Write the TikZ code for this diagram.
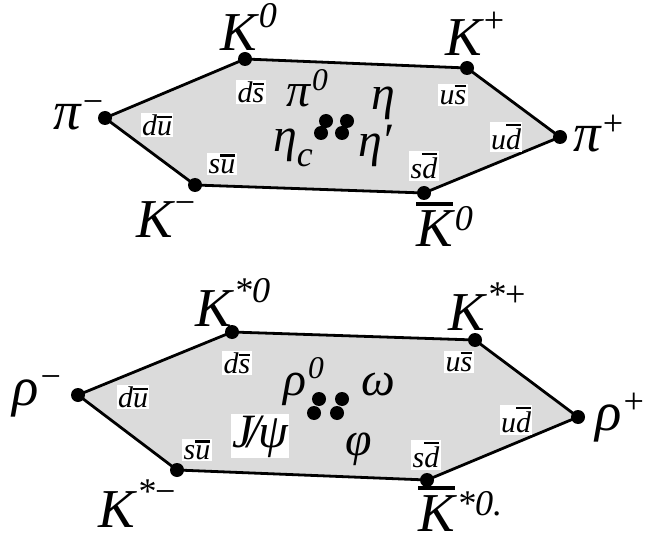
\documentclass[tikz,border=0pt]{standalone}
\usepackage{fontspec}
\setmainfont{Liberation Serif}
\newcommand{\ovl}[1]{\vbox{\hrule height 0.07em\kern0.1em\hbox{#1}}}
\newcommand{\sps}[2][0.42em]{\kern0.04em\raisebox{#1}{\fontsize{0.66\dimexpr\fontdimen6\font\relax}{0pt}\selectfont #2}}
\newcommand{\sbs}[1]{\raisebox{-0.3em}{\fontsize{0.75\dimexpr\fontdimen6\font\relax}{0pt}\selectfont #1}}
\begin{document}
\begin{tikzpicture}[x=1bp,y=-1bp,
  hexa/.style={fill=gray!28, draw=black, line width=2.8bp, line join=round},
  vdot/.style={circle, fill=black, inner sep=0pt, minimum size=14bp},
  cdot/.style={circle, fill=black, inner sep=0pt, minimum size=14bp},
  big/.style={font=\fontsize{55}{55}\selectfont\itshape, inner sep=0pt, anchor=base west},
  mid/.style={font=\fontsize{48}{48}\selectfont\itshape, inner sep=0pt, anchor=base west},
  qk/.style={font=\fontsize{30}{30}\selectfont\itshape, fill=white, inner sep=1.5bp}]
\useasboundingbox (0,0) rectangle (646,543);
% ---------- top hexagon ----------
\coordinate (pim) at (105,118);
\coordinate (K0) at (245,59);
\coordinate (Kp) at (467,68);
\coordinate (pip) at (560,137);
\coordinate (K0b) at (424,193);
\coordinate (Km) at (195,185);
\draw[hexa] (pim) -- (K0) -- (Kp) -- (pip) -- (K0b) -- (Km) -- cycle;
\foreach \v in {pim,K0,Kp,pip,K0b,Km} \node[vdot] (d\v) at (\v) {};
\node[big] (lK0) at (220,51) {K\sps{0}};
\node[big] (lKp) at (445,56) {K\sps{\upshape +}};
\node[big] (lpim) at (53,130) {π\sps[0.3em]{\upshape −}};
\node[big] (lpip) at (573,152) {π\sps[0.3em]{\upshape +}};
\node[big] (lKm) at (136,238) {K\sps{\upshape −}};
\node[big] (lK0b) at (416,247) {\ovl{K}\sps[0.3em]{0}};
\node[qk] (q1) at (251,92) {d\ovl{s}};
\node[qk] (q2) at (453,95) {u\ovl{s}};
\node[qk] (q3) at (157,125) {d\ovl{u}};
\node[qk] (q4) at (506,137) {u\ovl{d}};
\node[qk] (q5) at (222,164) {s\ovl{u}};
\node[qk] (q6) at (424,166) {s\ovl{d}};
\node[mid] (pi0) at (286,107) {π\sps[0.35em]{0}};
\node[mid] (eta) at (371,110) {η};
\node[mid] (etac) at (273,152) {η\sbs{c}};
\node[mid] (etap) at (358,157) {η′};
\node[cdot] (c1) at (326,121) {};
\node[cdot] (c2) at (347,121) {};
\node[cdot] (c3) at (321,133) {};
\node[cdot] (c4) at (342,133) {};
% ---------- bottom hexagon ----------
\coordinate (rhom) at (78,395);
\coordinate (Ks0) at (232,332);
\coordinate (Ksp) at (475,340);
\coordinate (rhop) at (578,417);
\coordinate (Ks0b) at (427,480);
\coordinate (Ksm) at (177,470);
\draw[hexa] (rhom) -- (Ks0) -- (Ksp) -- (rhop) -- (Ks0b) -- (Ksm) -- cycle;
\foreach \v in {rhom,Ks0,Ksp,rhop,Ks0b,Ksm} \node[vdot] (d\v) at (\v) {};
\node[big] (lKs0) at (195,326) {K\sps{*0}};
\node[big] (lKsp) at (448,330) {K\sps{*\upshape +}};
\node[big] (lrhom) at (12,405) {ρ\sps[0.3em]{\upshape −}};
\node[big] (lrhop) at (595,430) {ρ\sps[0.3em]{\upshape +}};
\node[big] (lKsm) at (98,527) {K\sps{*\upshape −}};
\node[big] (lKs0b) at (418,531) {\ovl{K}\sps[0.28em]{*0.}};
\node[qk] (r1) at (237,363) {d\ovl{s}};
\node[qk] (r2) at (459,362) {u\ovl{s}};
\node[qk] (r3) at (133,397) {d\ovl{u}};
\node[qk] (r4) at (516,420) {u\ovl{d}};
\node[qk] (r5) at (197,450) {s\ovl{u}};
\node[qk] (r6) at (426,455) {s\ovl{d}};
\node[mid] (rho0) at (283,395) {ρ\sps[0.35em]{0}};
\node[mid] (omega) at (361,395) {ω};
\node[mid, fill=white, inner sep=1bp] (jpsi) at (231,447) {J\kern-0.12em/\kern-0.05emψ};
\node[mid] (phi) at (345,455) {φ};
\node[cdot] (e1) at (319,399) {};
\node[cdot] (e2) at (342,399) {};
\node[cdot] (e3) at (314,413) {};
\node[cdot] (e4) at (337,413) {};
\end{tikzpicture}
\end{document}
